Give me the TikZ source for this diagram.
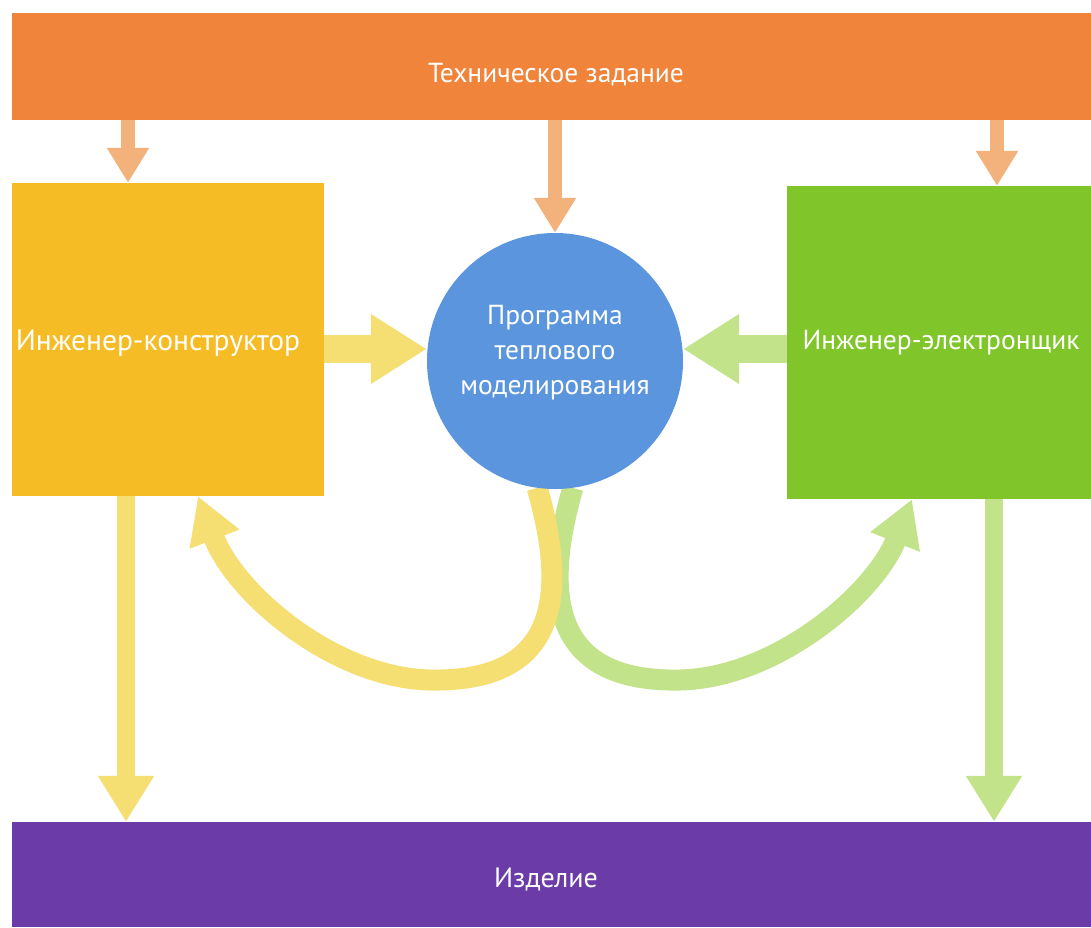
\documentclass[tikz,border=0pt]{standalone}
\usepackage{fontspec}
\setmainfont{PT Sans}
\usetikzlibrary{arrows.meta}
\definecolor{tzorange}{HTML}{F0843A}
\definecolor{peach}{HTML}{F3B27C}
\definecolor{yelbox}{HTML}{F6BC26}
\definecolor{grnbox}{HTML}{80C62A}
\definecolor{blu}{HTML}{5A95DD}
\definecolor{paleyel}{HTML}{F5DF72}
\definecolor{palegrn}{HTML}{C2E38A}
\definecolor{purp}{HTML}{6B3CA8}
\pgfdeclarelayer{bg}
\pgfsetlayers{bg,main}
\begin{document}
\begin{tikzpicture}[x=1pt,y=-1pt,
  bar/.style={rectangle, inner sep=0pt, minimum width=1079pt},
  blockbox/.style={rectangle, inner sep=0pt},
  lbl/.style={text=white, inner sep=0pt, align=center},
  toparr/.style={draw=peach, line width=14pt, line cap=butt, -{Triangle[width=40pt,length=35pt]}},
  sidearr/.style={line width=28pt, line cap=butt, -{Triangle[width=66pt,length=56pt]}},
  botarr/.style={line width=18pt, line cap=butt, -{Triangle[width=53pt,length=46pt]}},
  curvarr/.style={line width=21pt, line cap=butt, -{Triangle[width=50pt,length=46pt]}}
]
\useasboundingbox (0,0) rectangle (1091,927);
\begin{pgfonlayer}{bg}
\fill[white] (0,0) rectangle (1091,927);
\end{pgfonlayer}

% blocks
\node[bar, fill=tzorange, minimum height=107pt] (tz) at (551.5,66.5) {};
\node[lbl, font=\fontsize{27.5}{32}\selectfont] (tzt) at (556,75) {Техническое задание};

\node[blockbox, fill=yelbox, minimum width=312pt, minimum height=313pt] (yb) at (168,339.5) {};
\node[lbl, font=\fontsize{29.5}{34}\selectfont] (ybt) at (158,343) {Инженер-конструктор};
\node[blockbox, fill=grnbox, minimum width=304pt, minimum height=313pt] (gb) at (939,342.5) {};
\node[lbl, font=\fontsize{27.5}{32}\selectfont] (gbt) at (941,343) {Инженер-электронщик};

\node[circle, fill=blu, minimum size=256pt, inner sep=0pt] (pm) at (555,361) {};
\node[lbl, font=\fontsize{27.5}{35}\selectfont] (pmt) at (555,353) {Программа\\теплового\\моделирования};

\node[bar, fill=purp, minimum height=105pt] (izd) at (551.5,874.5) {};
\node[lbl, font=\fontsize{28}{33}\selectfont] (izdt) at (546,879) {Изделие};

% helper coordinates
\coordinate (a1) at (128,0);
\coordinate (a3) at (997,0);
\coordinate (hy) at (0,349);
\coordinate (b1) at (126,0);
\coordinate (b2) at (994,0);
\coordinate (ytip) at (198,0);
\coordinate (gtip) at (912,0);

% top arrows
\draw[toparr] (tz.south -| a1) -- (yb.north -| a1);
\draw[toparr] (tz.south -| pm) -- (pm.north);
\draw[toparr] (tz.south -| a3) -- (gb.north -| a3);

% side arrows
\draw[sidearr, draw=paleyel] (yb.east |- hy) -- (pm.west |- hy);
\draw[sidearr, draw=palegrn] (gb.west |- hy) -- (pm.east |- hy);

% bottom arrows
\draw[botarr, draw=paleyel] (yb.south -| b1) -- (izd.north -| b1);
\draw[botarr, draw=palegrn] (gb.south -| b2) -- (izd.north -| b2);

% curved feedback arrows
\begin{pgfonlayer}{bg}
\draw[curvarr, draw=palegrn] (pm.-82) .. controls (535,620) and (570,682) .. (680,680)
  .. controls (775,678) and (874,595) .. (gb.south -| gtip);
\draw[curvarr, draw=paleyel] (pm.-98) .. controls (575,620) and (540,682) .. (430,680)
  .. controls (335,678) and (236,595) .. (yb.south -| ytip);
\end{pgfonlayer}
\end{tikzpicture}
\end{document}
